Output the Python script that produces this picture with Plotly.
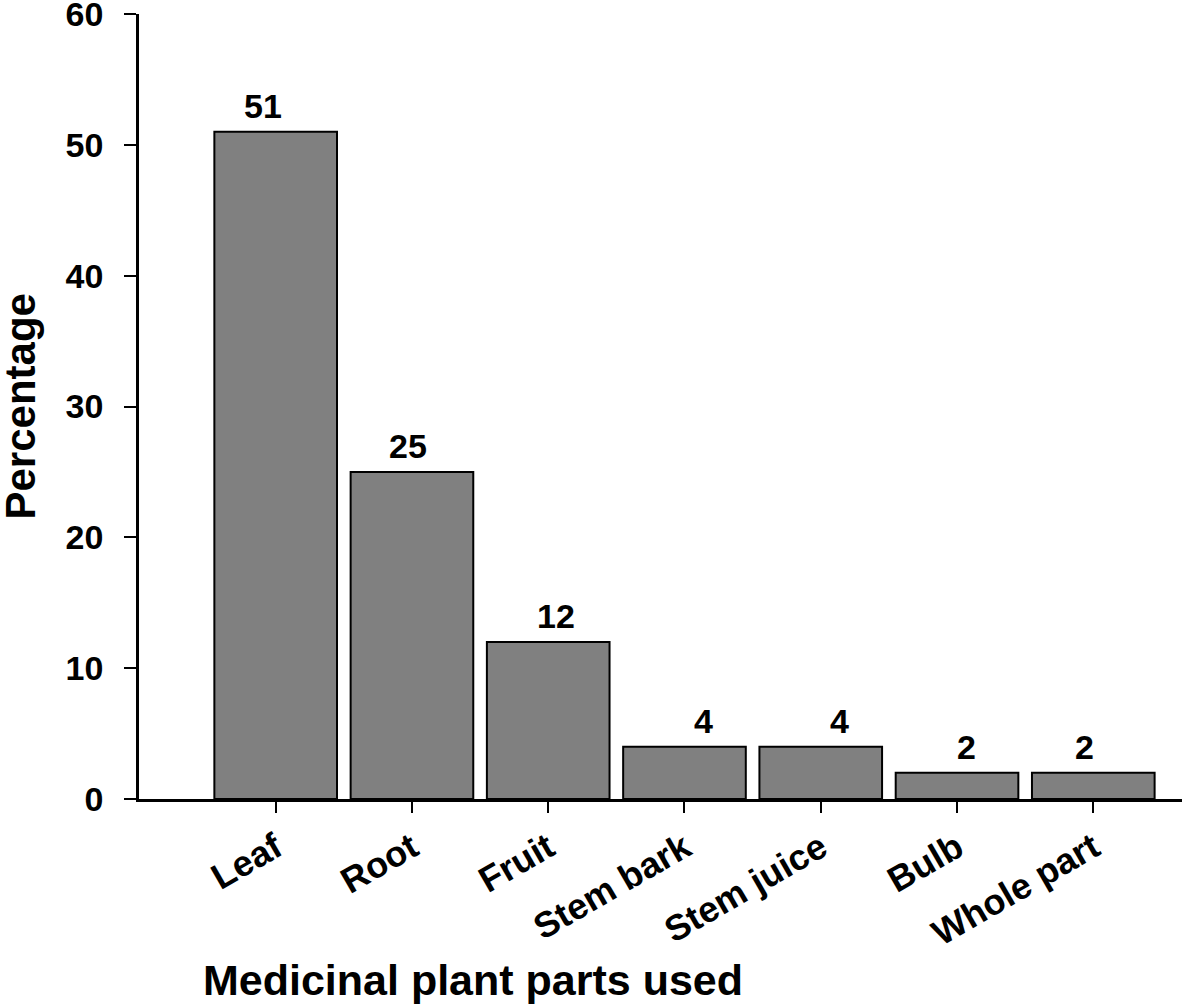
import plotly.graph_objects as go

categories = ["Leaf", "Root", "Fruit", "Stem bark", "Stem juice", "Bulb", "Whole part"]
percentages = [51, 25, 12, 4, 4, 2, 2]
y_ticks = [0, 10, 20, 30, 40, 50, 60]

# style: horizontal nudges of the value labels as seen in the original
label_xshift = [-13, -4, 8, 19, 19, 9, -9]

FONT = "Liberation Sans, Arial, sans-serif"

fig = go.Figure()
fig.add_trace(go.Bar(
    x=list(range(len(categories))),
    y=percentages,
    width=0.9,
    marker=dict(color="#808080", line=dict(color="black", width=2)),
    showlegend=False,
))

for i, v in enumerate(percentages):
    fig.add_annotation(
        x=i, y=v, xref="x", yref="y", text=str(v), showarrow=False,
        yanchor="bottom", xanchor="center", yshift=5, xshift=label_xshift[i],
        font=dict(family=FONT, size=34, color="black", weight="bold"),
    )

# body margin is removed by the post script, so the figure fills the window
W, H = 1182, 1004
L, R, T, B = 139, 0, 14, 205
pw = W - L - R

fig.add_annotation(
    text="Percentage", textangle=-90, showarrow=False,
    xref="paper", yref="paper", x=(20 - 139) / pw, y=0.5,
    xanchor="center", yanchor="middle",
    font=dict(family=FONT, size=42, color="black", weight="bold"),
)
fig.add_annotation(
    text="Medicinal plant parts used", showarrow=False,
    xref="paper", yref="paper", x=(473 - 139) / pw, y=0, yshift=-181,
    xanchor="center", yanchor="middle",
    font=dict(family=FONT, size=43, color="black", weight="bold"),
)

fig.update_layout(
    width=W, height=H,
    margin=dict(l=L, r=R, t=T, b=B, pad=0, autoexpand=False),
    plot_bgcolor="white", paper_bgcolor="white",
    bargap=0.1,
    xaxis=dict(
        range=[-1.003, 6.651],
        tickmode="array", tickvals=list(range(len(categories))), ticktext=categories,
        tickangle=-30,
        ticks="outside", ticklen=11, tickwidth=2, tickcolor="black",
        showline=True, linecolor="black", linewidth=2.5,
        showgrid=False, zeroline=False, automargin=False,
        tickfont=dict(family=FONT, size=36, color="black", weight="bold"),
    ),
    yaxis=dict(
        range=[0, 60],
        tickmode="array", tickvals=y_ticks, ticktext=[str(t) for t in y_ticks],
        ticks="outside", ticklen=12, tickwidth=2, tickcolor="black",
        showline=True, linecolor="black", linewidth=2.5,
        showgrid=False, zeroline=False, automargin=False,
        ticklabelstandoff=14,
        ticklabeloverflow="allow",
        tickfont=dict(family=FONT, size=34, color="black", weight="bold"),
    ),
)

fig.write_html(
    "out.html",
    config={"displayModeBar": False},
    post_script="document.body.style.margin='0';document.body.style.overflow='hidden';",
)
